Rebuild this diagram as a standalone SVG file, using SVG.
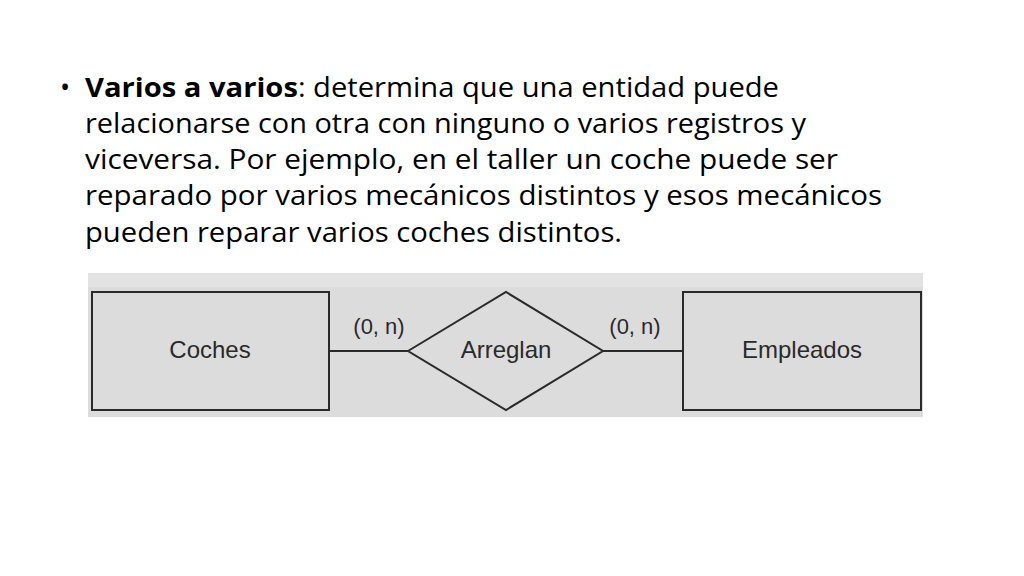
<svg xmlns="http://www.w3.org/2000/svg" width="1024" height="576" viewBox="0 0 1024 576">
<style>
.body{font-family:"Open Sans","Liberation Sans",sans-serif;font-size:27px;fill:#000}
.lbl{font-family:"Liberation Sans",Arial,sans-serif;font-size:24px;fill:#2a2a2a}
.card{font-family:"Liberation Sans",Arial,sans-serif;font-size:22px;fill:#2a2a2a}
.shape{fill:#dcdcdc;stroke:#2a2a2a;stroke-width:2}
.conn{stroke:#2a2a2a;stroke-width:2;fill:none}
</style>
<rect width="1024" height="576" fill="#fff"/>
<g id="text">
<text class="body" x="60" y="97">•</text>
<text class="body" x="85" y="97" textLength="694" lengthAdjust="spacingAndGlyphs"><tspan font-weight="bold">Varios a varios</tspan>: determina que una entidad puede</text>
<text class="body" x="85" y="133" textLength="721" lengthAdjust="spacingAndGlyphs">relacionarse con otra con ninguno o varios registros y</text>
<text class="body" x="85" y="169" textLength="753" lengthAdjust="spacingAndGlyphs">viceversa. Por ejemplo, en el taller un coche puede ser</text>
<text class="body" x="85" y="205" textLength="797" lengthAdjust="spacingAndGlyphs">reparado por varios mecánicos distintos y esos mecánicos</text>
<text class="body" x="85" y="242" textLength="537" lengthAdjust="spacingAndGlyphs">pueden reparar varios coches distintos.</text>
</g>
<g id="diagram-bg">
<rect x="88" y="273" width="835" height="144" fill="#dcdcdc"/>
<rect x="88" y="273" width="835" height="14" fill="#e3e3e3"/>
</g>
<g id="connectors">
<line class="conn" x1="329" y1="351" x2="408" y2="351"/>
<line class="conn" x1="603" y1="351" x2="683" y2="351"/>
<text class="card" x="379" y="334" text-anchor="middle">(0, n)</text>
<text class="card" x="635" y="334" text-anchor="middle">(0, n)</text>
</g>
<g id="coches">
<rect class="shape" x="92" y="292" width="237" height="118"/>
<text class="lbl" x="210" y="358" text-anchor="middle">Coches</text>
</g>
<g id="arreglan">
<polygon class="shape" points="408,351 506,292 603,351 506,410"/>
<text class="lbl" x="506" y="358" text-anchor="middle">Arreglan</text>
</g>
<g id="empleados">
<rect class="shape" x="683" y="292" width="238" height="118"/>
<text class="lbl" x="802" y="358" text-anchor="middle">Empleados</text>
</g>
</svg>
